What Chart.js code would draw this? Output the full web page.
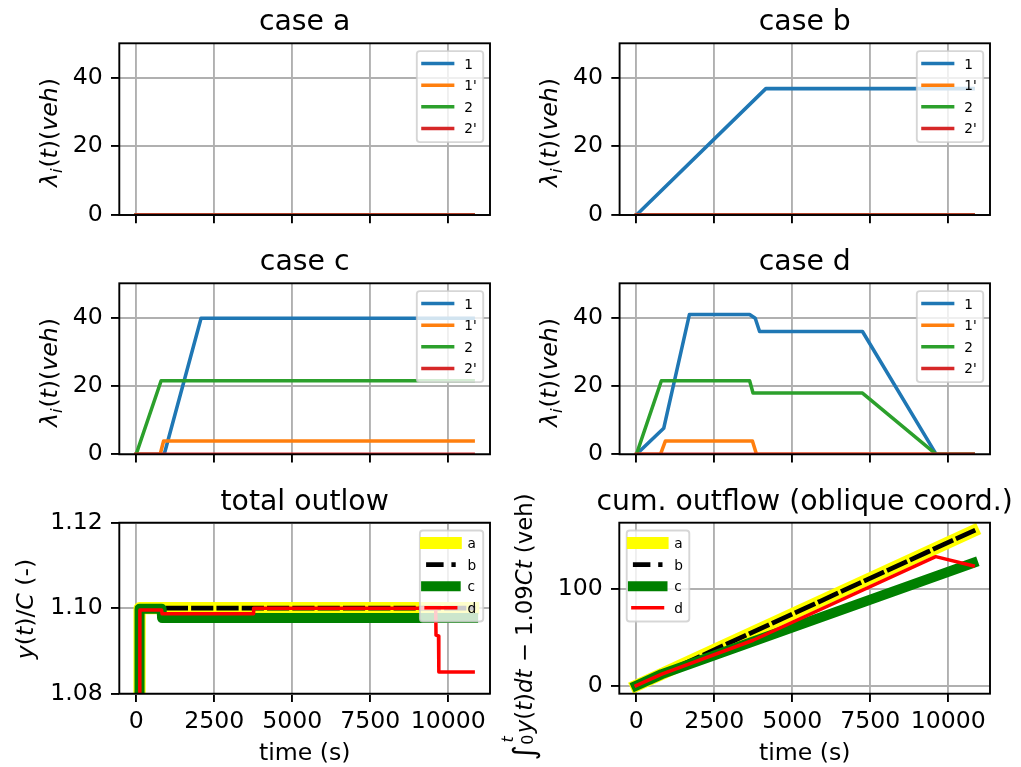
<!DOCTYPE html>
<html><head><meta charset="utf-8">
<script src="https://cdn.jsdelivr.net/npm/chart.js@4.4.1/dist/chart.umd.min.js"></script>
<style>
html,body{margin:0;padding:0;background:#fff;}
#wrap{position:relative;width:1021px;height:767px;overflow:hidden;background:#fff;}
canvas{position:absolute;left:0;top:0;}
</style></head><body><div id="wrap">
<canvas id="p1" width="1021" height="767"></canvas>
<canvas id="p2" width="1021" height="767"></canvas>
<canvas id="p3" width="1021" height="767"></canvas>
<canvas id="p4" width="1021" height="767"></canvas>
<canvas id="p5" width="1021" height="767"></canvas>
<canvas id="p6" width="1021" height="767"></canvas>
</div>
<script>
// ---------------- data ----------------
const timeTicks = [0, 2500, 5000, 7500, 10000];
const timeTickLabels = ['0', '2500', '5000', '7500', '10000'];
const lambdaTicks = [0, 20, 40];
const lambdaTickLabels = ['0', '20', '40'];
const outflowTicks = [1.08, 1.10, 1.12];
const outflowTickLabels = ['1.08', '1.10', '1.12'];
const cumTicks = [0, 100];
const cumTickLabels = ['0', '100'];
const laneLabels = ['1', "1'", '2', "2'"];
const caseLabels = ['a', 'b', 'c', 'd'];
const caseTitles = ['case a', 'case b', 'case c', 'case d'];

// lambda_i(t) per case, points [t, veh]
const caseA_lane1  = [[0, 0], [10800, 0]];
const caseA_lane1p = [[0, 0], [10800, 0]];
const caseA_lane2  = [[0, 0], [10800, 0]];
const caseA_lane2p = [[0, 0], [10800, 0]];

const caseB_lane1  = [[0, 0], [4150, 36.8], [10800, 36.8]];
const caseB_lane1p = [[0, 0], [10800, 0]];
const caseB_lane2  = [[0, 0], [10800, 0]];
const caseB_lane2p = [[0, 0], [10800, 0]];

const caseC_lane1  = [[0, 0], [900, 0], [2080, 39.8], [10800, 39.8]];
const caseC_lane1p = [[0, 0], [770, 0], [880, 3.9], [10800, 3.9]];
const caseC_lane2  = [[0, 0], [800, 21.5], [10800, 21.5]];
const caseC_lane2p = [[0, 0], [10800, 0]];

const caseD_lane1  = [[0, 0], [875, 7.6], [1700, 40.9], [3630, 40.9], [3810, 39.8], [3950, 35.9], [7250, 35.9], [9615, 0], [10800, 0]];
const caseD_lane1p = [[0, 0], [770, 0], [930, 3.9], [3720, 3.9], [3850, 0], [10800, 0]];
const caseD_lane2  = [[0, 0], [800, 21.5], [3630, 21.5], [3740, 17.9], [7250, 17.9], [9615, 0], [10800, 0]];
const caseD_lane2p = [[0, 0], [10800, 0]];

// total outflow y(t)/C
const totalA = [[0, 0], [110, 1.100], [10800, 1.100]];
const totalB = [[0, 0], [110, 1.100], [10800, 1.100]];
const totalC = [[0, 0], [110, 1.0999], [815, 1.0999], [830, 1.0977], [10800, 1.0977]];
const totalD = [[0, 0], [120, 1.0996], [815, 1.0996], [830, 1.0987], [3750, 1.0987], [3765, 1.1000], [9600, 1.1000], [9610, 1.0937], [9690, 1.0935], [9700, 1.0851], [10800, 1.0851]];

// cumulative outflow in oblique coordinates (veh)
const cumA = [[0, 0], [10800, 160]];
const cumB = [[0, 0], [10800, 160]];
const cumC = [[0, 0], [820, 12], [10800, 127]];
const cumD = [[0, 0], [820, 12], [3750, 47], [9600, 133.5], [10800, 124]];

// ---------------- styling ----------------
const W = 1021, H = 767, YW = 80, XH = 50;
const FAM = '"DejaVu Sans", "Liberation Sans", sans-serif';
const TICK = 23.6, TITLE = 28.3, LEG = 13.7;
const laneColors = ['#1f77b4', '#ff7f0e', '#2ca02c', '#d62728'];
const caseStyles = [
  {color: '#ffff00', width: 12.2},
  {color: '#000000', width: 4.7, dash: [17.5, 7.8]},
  {color: '#008000', width: 10},
  {color: '#ff0000', width: 3.5}
];
Chart.defaults.font.family = FAM;
Chart.defaults.color = '#000';

const toXY = arr => arr.map(p => ({x: p[0], y: p[1]}));

function laneSets(series) {
  return series.map((s, i) => ({
    label: laneLabels[i], data: toXY(s), borderColor: laneColors[i], backgroundColor: laneColors[i],
    borderWidth: 3.54, order: series.length - i
  }));
}
function caseSets(series) {
  return series.map((s, i) => ({
    label: caseLabels[i], data: toXY(s), borderColor: caseStyles[i].color, backgroundColor: caseStyles[i].color,
    borderWidth: caseStyles[i].width, borderDash: caseStyles[i].dash, order: series.length - i
  }));
}

// mixed-font rotated label
function drawRotRich(ctx, segs, bx, cy, size) {
  const fontOf = (it, sc) => (it ? 'italic ' : '') + (size * sc).toFixed(2) + 'px ' + FAM;
  const pieces = []; let x = 0;
  for (const s of segs) {
    if (s.stack) {
      const f1 = fontOf(false, s.sc), f2 = fontOf(true, s.sc);
      ctx.font = f1; const w1 = ctx.measureText(s.sub).width;
      ctx.font = f2; const w2 = ctx.measureText(s.sup).width;
      pieces.push({t: s.sub, font: f1, x: x, dy: s.subdy * size});
      pieces.push({t: s.sup, font: f2, x: x + (s.supdx || 0) * size, dy: s.supdy * size});
      x += Math.max(w1, w2) + (s.gap || 0) * size;
    } else {
      const f = fontOf(s.it, s.sc || 1); ctx.font = f;
      const w = ctx.measureText(s.t).width;
      pieces.push({t: s.t, font: f, x: x, dy: (s.dy || 0) * size});
      x += w + (s.gap || 0) * size;
    }
  }
  const total = x;
  ctx.save();
  ctx.translate(bx, cy); ctx.rotate(-Math.PI / 2);
  ctx.textAlign = 'left'; ctx.textBaseline = 'alphabetic'; ctx.fillStyle = '#000';
  for (const p of pieces) { ctx.font = p.font; ctx.fillText(p.t, p.x - total / 2, p.dy); }
  ctx.restore();
}

function drawLegend(ctx, chart, lg) {
  const ar = chart.chartArea, ds = chart.data.datasets;
  const bw = lg.width, bh = 91;
  const x0 = lg.corner === 'ur' ? ar.right - 6.8 - bw : ar.left + 7.4;
  const y0 = ar.top + 7.8;
  ctx.save();
  ctx.beginPath();
  if (ctx.roundRect) ctx.roundRect(x0, y0, bw, bh, 3); else ctx.rect(x0, y0, bw, bh);
  ctx.fillStyle = 'rgba(255,255,255,0.8)'; ctx.fill();
  ctx.strokeStyle = 'rgba(204,204,204,0.8)'; ctx.lineWidth = 1.9; ctx.stroke();
  ds.forEach((d, i) => {
    const y = y0 + 12.5 + i * 21.6;
    ctx.beginPath(); ctx.moveTo(x0 + 6.2, y); ctx.lineTo(x0 + 35.8, y);
    ctx.strokeStyle = d.borderColor; ctx.lineWidth = d.borderWidth;
    ctx.setLineDash(d.borderDash || []); ctx.lineCap = d.borderDash ? 'butt' : 'square';
    ctx.stroke(); ctx.setLineDash([]);
    ctx.fillStyle = '#000'; ctx.font = LEG + 'px ' + FAM; ctx.textAlign = 'left'; ctx.textBaseline = 'alphabetic';
    ctx.fillText(d.label, x0 + 47.5, y + 5);
  });
  ctx.restore();
}

function decor(cfg) {
  return {
    id: 'decor',
    afterDraw(chart) {
      const ctx = chart.ctx, ar = chart.chartArea;
      ctx.save();
      ctx.strokeStyle = '#000'; ctx.lineWidth = 1.9; ctx.setLineDash([]);
      ctx.strokeRect(ar.left, ar.top, ar.right - ar.left, ar.bottom - ar.top);
      ctx.fillStyle = '#000'; ctx.textAlign = 'center'; ctx.textBaseline = 'alphabetic';
      ctx.font = TITLE + 'px ' + FAM;
      ctx.fillText(cfg.title, (ar.left + ar.right) / 2, ar.top - 13);
      if (cfg.xlabel) {
        ctx.font = TICK + 'px ' + FAM;
        ctx.fillText(cfg.xlabel, (ar.left + ar.right) / 2, 759.5);
      }
      ctx.restore();
      drawRotRich(ctx, cfg.ylabel, cfg.ylx, cfg.lyc, cfg.ylsize || TICK);
      drawLegend(ctx, chart, cfg.legend);
    }
  };
}

function makeChart(id, cfg) {
  const a = cfg.area;
  new Chart(document.getElementById(id), {
    type: 'line',
    data: {datasets: cfg.datasets},
    options: {
      responsive: false, animation: false, devicePixelRatio: 1,
      layout: {padding: {left: a.l - YW, top: a.t, right: W - a.r, bottom: H - a.b - XH}},
      elements: {
        point: {radius: 0, hoverRadius: 0},
        line: {tension: 0, fill: false, borderJoinStyle: 'round', borderCapStyle: 'square'}
      },
      datasets: {line: {clip: 0, spanGaps: true}},
      plugins: {legend: {display: false}, tooltip: {enabled: false}, title: {display: false}},
      events: [],
      scales: {
        x: {
          type: 'linear', position: 'bottom', min: cfg.xmin, max: cfg.xmax,
          afterBuildTicks: ax => { ax.ticks = cfg.xticks.map(v => ({value: v})); },
          afterFit: sc => { sc.height = XH; },
          grid: {color: '#b0b0b0', lineWidth: 1.9, tickColor: '#000', tickWidth: 1.9, tickLength: 8.3, drawTicks: true},
          border: {display: false},
          ticks: {display: cfg.showX, autoSkip: false, maxRotation: 0, minRotation: 0, padding: 5.5,
                  font: {size: TICK}, color: '#000', callback: (v, i) => cfg.xtickLabels[i]}
        },
        y: {
          type: 'linear', position: 'left', min: cfg.ymin, max: cfg.ymax,
          afterBuildTicks: ax => { ax.ticks = cfg.yticks.map(v => ({value: v})); },
          afterFit: sc => { sc.width = YW; },
          grid: {color: '#b0b0b0', lineWidth: 1.9, tickColor: '#000', tickWidth: 1.9, tickLength: 8.3, drawTicks: true},
          border: {display: false},
          ticks: {autoSkip: false, padding: 8.3, font: {size: TICK}, color: '#000',
                  callback: (v, i) => cfg.ytickLabels[i]}
        }
      }
    },
    plugins: [decor(cfg)]
  });
}

const lambdaLabel = [
  {t: 'λ', it: true}, {t: 'i', it: true, sc: 0.7, dy: 0.2, gap: 0.03},
  {t: '('}, {t: 't', it: true}, {t: ')'}, {t: '('}, {t: 'veh', it: true}, {t: ')'}
];
const outLabel = [
  {t: 'y', it: true}, {t: '('}, {t: 't', it: true}, {t: ')'}, {t: '/'}, {t: 'C', it: true}, {t: ' (-)'}
];
const cumLabel = [
  {t: '∫', sc: 1.3, dy: 0.12, gap: 0.02},
  {stack: true, sub: '0', sup: 't', sc: 0.7, subdy: 0.05, supdy: -0.8, supdx: 0.1, gap: 0.06},
  {t: 'y', it: true}, {t: '('}, {t: 't', it: true}, {t: ')'}, {t: 'dt', it: true},
  {t: ' − '}, {t: '1.09'}, {t: 'Ct', it: true}, {t: ' (veh)'}
];

const X0 = -540, X1 = 11340;
const caseSeries = [
  [caseA_lane1, caseA_lane1p, caseA_lane2, caseA_lane2p],
  [caseB_lane1, caseB_lane1p, caseB_lane2, caseB_lane2p],
  [caseC_lane1, caseC_lane1p, caseC_lane2, caseC_lane2p],
  [caseD_lane1, caseD_lane1p, caseD_lane2, caseD_lane2p]
];
const areas = [
  {l: 119.3, t: 43.3, r: 490, b: 215},
  {l: 619.6, t: 43.3, r: 990, b: 215},
  {l: 119.3, t: 283.3, r: 490, b: 454.3},
  {l: 619.6, t: 283.3, r: 990, b: 454.3}
];
const ylx = [57, 557, 57, 557];
const lyc = [132.5, 132.5, 372.5, 372.5];

caseSeries.forEach((ser, k) => {
  makeChart('p' + (k + 1), {
    area: areas[k], xmin: X0, xmax: X1, ymin: 0, ymax: 50,
    xticks: timeTicks, xtickLabels: timeTickLabels, showX: false,
    yticks: lambdaTicks, ytickLabels: lambdaTickLabels,
    title: caseTitles[k], ylabel: lambdaLabel, ylx: ylx[k], lyc: lyc[k],
    legend: {corner: 'ur', width: 66.4},
    datasets: laneSets(ser)
  });
});

makeChart('p5', {
  area: {l: 119.3, t: 522.7, r: 490, b: 693.7}, xmin: X0, xmax: X1, ymin: 1.08, ymax: 1.12,
  xticks: timeTicks, xtickLabels: timeTickLabels, showX: true,
  yticks: outflowTicks, ytickLabels: outflowTickLabels,
  title: 'total outlow', xlabel: 'time (s)', ylabel: outLabel, ylx: 33, lyc: 609,
  legend: {corner: 'ur', width: 63.3},
  datasets: caseSets([totalA, totalB, totalC, totalD])
});

makeChart('p6', {
  area: {l: 619.3, t: 522.7, r: 990, b: 693.7}, xmin: X0, xmax: X1, ymin: -8.27, ymax: 168.6,
  xticks: timeTicks, xtickLabels: timeTickLabels, showX: true,
  yticks: cumTicks, ytickLabels: cumTickLabels,
  title: 'cum. outflow (oblique coord.)', xlabel: 'time (s)', ylabel: cumLabel, ylx: 531.5, lyc: 627,
  ylsize: 22.8,
  legend: {corner: 'ul', width: 62.6},
  datasets: caseSets([cumA, cumB, cumC, cumD])
});
</script>
</body></html>
